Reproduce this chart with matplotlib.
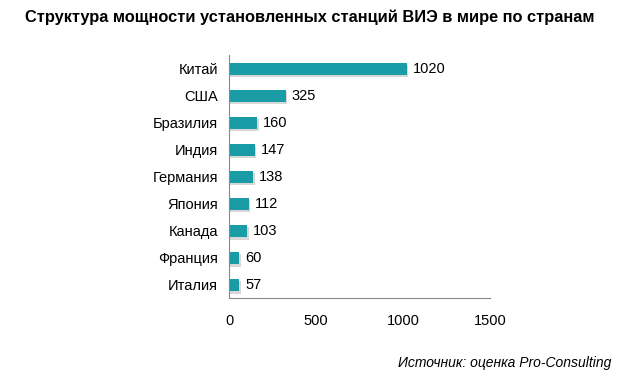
import matplotlib
matplotlib.use("Agg")
import matplotlib.pyplot as plt

countries = ["Китай", "США", "Бразилия", "Индия", "Германия", "Япония", "Канада", "Франция", "Италия"]
values = [1020, 325, 160, 147, 138, 112, 103, 60, 57]
xticks = [0, 500, 1000, 1500]

plt.rcParams['font.family'] = ['Liberation Sans', 'DejaVu Sans']

fig = plt.figure(figsize=(6.19, 3.78), dpi=100)
ax = fig.add_axes([0.370, 0.211, 0.422, 0.643])

y = list(range(len(countries)))
# shadow
ax.barh([v + 0.1 for v in y], [v + 10 for v in values], height=0.45, left=0,
        color="#b0b0b0", alpha=0.5, zorder=1)
ax.barh(y, values, height=0.45, color="#1a9ca7", zorder=2)
for yi, v in zip(y, values):
    ax.text(v + 35, yi, str(v), va="center", ha="left", fontsize=10.5, color="#000000")

ax.set_ylim(len(countries) - 0.5, -0.5)
ax.set_xlim(0, 1500)
ax.set_yticks(y)
ax.set_yticklabels(countries, fontsize=10.5)
ax.set_xticks(xticks)
ax.set_xticklabels([str(t) for t in xticks], fontsize=10.5)
ax.tick_params(length=0, pad=8)
ax.tick_params(axis='x', pad=11)
for s in ["top", "right"]:
    ax.spines[s].set_visible(False)
ax.spines["left"].set_color("#888888")
ax.spines["bottom"].set_color("#888888")

fig.text(0.5, 0.955, "Структура мощности установленных станций ВИЭ в мире по странам",
         ha="center", va="center", fontsize=11.8, fontweight="bold")
fig.text(0.988, 0.040, "Источник: оценка Pro-Consulting", ha="right", va="center",
         fontsize=10, style="italic")

fig.savefig("out.png", dpi=100)
